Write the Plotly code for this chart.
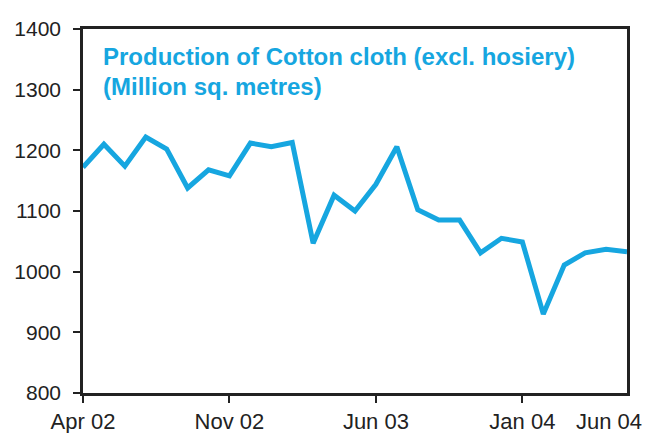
import plotly.graph_objects as go

months = ["Apr 02","May 02","Jun 02","Jul 02","Aug 02","Sep 02","Oct 02","Nov 02","Dec 02",
          "Jan 03","Feb 03","Mar 03","Apr 03","May 03","Jun 03","Jul 03","Aug 03","Sep 03",
          "Oct 03","Nov 03","Dec 03","Jan 04","Feb 04","Mar 04","Apr 04","May 04","Jun 04"]
production = [1172, 1210, 1174, 1222, 1202, 1138, 1168, 1158, 1212, 1206, 1213, 1047, 1126,
              1100, 1144, 1206, 1102, 1085, 1085, 1031, 1055, 1049, 930, 1011, 1031, 1037, 1033]
tick_labels = ["Apr 02", "Nov 02", "Jun 03", "Jan 04", "Jun 04"]
y_ticks = [800, 900, 1000, 1100, 1200, 1300, 1400]

x_idx = list(range(len(months)))
tick_pos = [months.index(t) for t in tick_labels]

BLUE = "#16a6e0"
INK = "#222222"
FONT = "Liberation Sans, Arial, sans-serif"

fig = go.Figure()
fig.add_trace(go.Scatter(x=x_idx, y=production, mode="lines",
                         line=dict(color=BLUE, width=5), hoverinfo="skip"))

# margins compensate for the 8px default page body margin
fig.update_layout(
    width=654, height=433,
    margin=dict(l=75, r=35, t=21, b=48),
    paper_bgcolor="white", plot_bgcolor="white",
    showlegend=False,
    font=dict(family=FONT, size=21, color=INK),
)
fig.update_xaxes(
    range=[0, len(months) - 1], automargin=False,
    tickmode="array", tickvals=tick_pos[:-1], ticktext=tick_labels[:-1],
    ticks="outside", ticklen=7, tickwidth=2, tickcolor=INK,
    showline=True, linecolor=INK, linewidth=2.5, mirror=True,
    showgrid=False, zeroline=False,
    tickfont=dict(size=22, color=INK),
)
fig.update_yaxes(
    range=[800, 1400], automargin=False,
    tickmode="array", tickvals=y_ticks, ticktext=[str(v) for v in y_ticks],
    ticks="outside", ticklen=7, tickwidth=2, tickcolor=INK,
    showline=True, linecolor=INK, linewidth=2.5, mirror=True,
    showgrid=False, zeroline=False,
    tickfont=dict(size=21, color=INK),
    ticklabelstandoff=8,
)

# last x label sits at the right corner, shifted left as in the original
fig.add_annotation(x=tick_pos[-1], y=0, xref="x", yref="paper",
                   text=tick_labels[-1], showarrow=False, borderpad=0,
                   xanchor="center", yanchor="top", xshift=-18, yshift=-15,
                   font=dict(size=22, color=INK, family=FONT))

fig.add_annotation(x=0, y=1, xref="paper", yref="paper",
                   text="<b>Production of Cotton cloth (excl. hosiery)</b>",
                   showarrow=False, xanchor="left", yanchor="middle",
                   xshift=18, yshift=-27,
                   font=dict(size=24, color=BLUE, family=FONT))
fig.add_annotation(x=0, y=1, xref="paper", yref="paper",
                   text="<b>(Million sq. metres)</b>",
                   showarrow=False, xanchor="left", yanchor="middle",
                   xshift=18, yshift=-57,
                   font=dict(size=24, color=BLUE, family=FONT))

fig.write_html("out.html")
